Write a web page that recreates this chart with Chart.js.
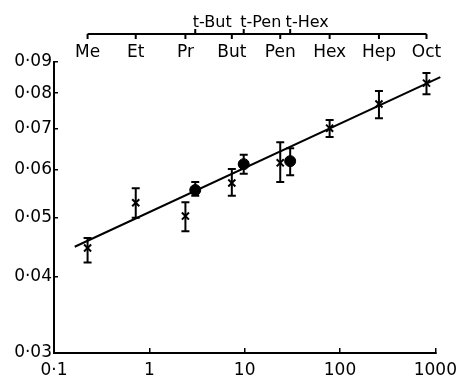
<!DOCTYPE html>
<html>
<head>
<meta charset="utf-8">
<script src="https://cdn.jsdelivr.net/npm/chart.js@4"></script>
<style>
  html, body { margin: 0; padding: 0; background: #fff; }
  #wrap { width: 469px; height: 379px; }
</style>
</head>
<body>
<div id="wrap"><canvas id="myChart" width="469" height="379"></canvas></div>
<script>
// n-alkyl series (crosses)
var alkyls = ['Me', 'Et', 'Pr', 'But', 'Pen', 'Hex', 'Hep', 'Oct'];
var alkylX = [0.225, 0.72, 2.39, 7.33, 23.6, 77.8, 256, 807];
var alkylY = [0.0446, 0.0529, 0.0503, 0.0570, 0.0615, 0.0701, 0.0768, 0.0831];
var alkylLo = [0.0422, 0.0500, 0.0475, 0.0543, 0.0572, 0.0678, 0.0728, 0.0797];
var alkylHi = [0.0463, 0.0559, 0.0530, 0.0601, 0.0665, 0.0723, 0.0807, 0.0863];

// tertiary series (filled circles)
var tertiary = ['t-But', 't-Pen', 't-Hex'];
var tertX = [3.03, 9.77, 30.0];
var tertY = [0.0555, 0.0612, 0.0619];
var tertLo = [0.0543, 0.0590, 0.0587];
var tertHi = [0.0572, 0.0634, 0.0650];

// fitted line
var fitX = [0.165, 1127];
var fitY = [0.0448, 0.0850];

// tick labels
var xTicks = [0.1, 1, 10, 100, 1000];
var xTickLabels = ['0·1', '1', '10', '100', '1000'];
var yTicks = [0.03, 0.04, 0.05, 0.06, 0.07, 0.08, 0.09];
var yTickLabels = ['0·03', '0·04', '0·05', '0·06', '0·07', '0·08', '0·09'];

Chart.defaults.font.family = 'DejaVu Sans';
Chart.defaults.font.size = 17;
Chart.defaults.color = '#000';

function pts(xs, ys) {
  return xs.map((x, i) => ({ x: x, y: ys[i] }));
}

// error bars drawn through the chart scales
const errorBars = {
  id: 'errorBars',
  afterDatasetsDraw(chart) {
    const ctx = chart.ctx, xs = chart.scales.x, ys = chart.scales.y;
    ctx.save();
    ctx.strokeStyle = '#000';
    ctx.lineWidth = 2;
    const draw = (xv, lo, hi) => {
      xv.forEach((v, i) => {
        const px = xs.getPixelForValue(v);
        const p1 = ys.getPixelForValue(lo[i]);
        const p2 = ys.getPixelForValue(hi[i]);
        ctx.beginPath();
        ctx.moveTo(px, p1); ctx.lineTo(px, p2);
        ctx.moveTo(px - 4, p1); ctx.lineTo(px + 4, p1);
        ctx.moveTo(px - 4, p2); ctx.lineTo(px + 4, p2);
        ctx.stroke();
      });
    };
    draw(alkylX, alkylLo, alkylHi);
    draw(tertX, tertLo, tertHi);
    ctx.restore();
  }
};

// top axis line with ticks down (n-alkyl) and up (tertiary)
const topAxisLine = {
  id: 'topAxisLine',
  afterDraw(chart) {
    const ctx = chart.ctx, x2 = chart.scales.x2, x3 = chart.scales.x3;
    const y = x3.bottom;
    ctx.save();
    ctx.strokeStyle = '#000';
    ctx.lineWidth = 2;
    ctx.beginPath();
    ctx.moveTo(x2.getPixelForValue(alkylX[0]), y);
    ctx.lineTo(x2.getPixelForValue(alkylX[alkylX.length - 1]), y);
    alkylX.forEach(v => {
      const px = x2.getPixelForValue(v);
      ctx.moveTo(px, y); ctx.lineTo(px, y + 5);
    });
    tertX.forEach(v => {
      const px = x3.getPixelForValue(v);
      ctx.moveTo(px, y); ctx.lineTo(px, y - 5);
    });
    ctx.stroke();
    ctx.restore();
  }
};

const ctx = document.getElementById('myChart');
var myChart = new Chart(ctx, {
  type: 'scatter',
  data: {
    datasets: [{
      data: pts(fitX, fitY),
      showLine: true,
      borderColor: '#000',
      borderWidth: 2,
      pointRadius: 0,
      clip: false
    }, {
      data: pts(alkylX, alkylY),
      pointStyle: 'crossRot',
      pointRadius: 5,
      borderColor: '#000',
      borderWidth: 2
    }, {
      data: pts(tertX, tertY),
      pointStyle: 'circle',
      pointRadius: 5.5,
      backgroundColor: '#000',
      borderColor: '#000',
      borderWidth: 1
    }]
  },
  options: {
    responsive: false,
    animation: false,
    layout: { padding: { left: 0, right: 28, top: 0, bottom: 0 } },
    scales: {
      x: {
        type: 'logarithmic',
        position: 'bottom',
        min: 0.1,
        max: 1000,
        afterBuildTicks: s => { s.ticks = xTicks.map(v => ({ value: v })); },
        afterFit: s => { s.height = 26; },
        ticks: {
          autoSkip: false,
          maxRotation: 0,
          padding: 12,
          callback: (v, i) => xTickLabels[i]
        },
        grid: { drawOnChartArea: false, tickLength: -5, color: '#000', lineWidth: 1.5 },
        border: { color: '#000', width: 2 }
      },
      x2: {
        type: 'logarithmic',
        position: 'top',
        min: 0.1,
        max: 1000,
        weight: 0,
        afterBuildTicks: s => { s.ticks = alkylX.map(v => ({ value: v })); },
        afterFit: s => { s.height = 28; },
        ticks: {
          autoSkip: false,
          maxRotation: 0,
          padding: -1,
          callback: (v, i) => alkyls[i]
        },
        grid: { display: false, drawTicks: false },
        border: { display: false }
      },
      x3: {
        type: 'logarithmic',
        position: 'top',
        min: 0.1,
        max: 1000,
        weight: 1,
        afterBuildTicks: s => { s.ticks = tertX.map(v => ({ value: v })); },
        afterFit: s => { s.height = 34; },
        ticks: {
          autoSkip: false,
          maxRotation: 0,
          padding: 2,
          labelOffset: 17,
          font: { size: 16 },
          callback: (v, i) => tertiary[i]
        },
        grid: { display: false, drawTicks: false },
        border: { display: false }
      },
      y: {
        type: 'logarithmic',
        min: 0.03,
        max: 0.09,
        afterBuildTicks: s => { s.ticks = yTicks.map(v => ({ value: v })); },
        afterFit: s => { s.width = 54; },
        ticks: {
          autoSkip: false,
          padding: 6,
          callback: (v, i) => yTickLabels[i]
        },
        grid: { drawOnChartArea: false, tickLength: -4, color: '#000', lineWidth: 1.5 },
        border: { color: '#000', width: 2 }
      }
    },
    plugins: {
      legend: { display: false },
      tooltip: { enabled: false }
    }
  },
  plugins: [errorBars, topAxisLine]
});
</script>
</body>
</html>
